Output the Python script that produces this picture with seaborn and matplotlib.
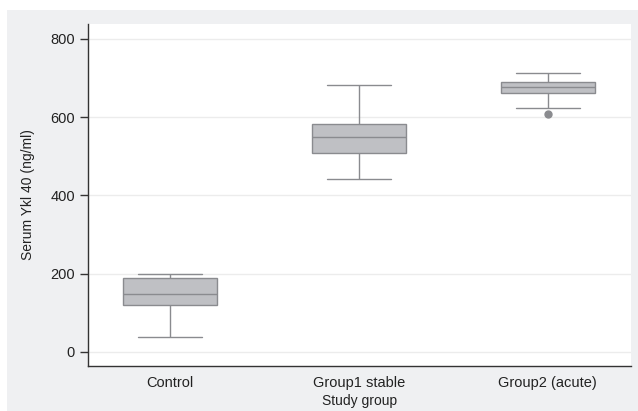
import numpy as np
import pandas as pd
import matplotlib
matplotlib.use("Agg")
import matplotlib.pyplot as plt
import seaborn as sns

# -------------------
# Data (min, Q1, median, Q3, max + one outlier)
# -------------------
groups = ["Control", "Group1 stable", "Group2 (acute)"]
control = [37, 100, 120, 135, 147, 170, 190, 195, 198]
group1 = [441, 480, 508, 530, 548, 565, 582, 640, 681]
group2 = [608, 623, 661, 668, 676, 682, 689, 700, 714]
yticks = [0, 200, 400, 600, 800]

df = pd.DataFrame({
    "group": np.repeat(groups, [len(control), len(group1), len(group2)]),
    "value": control + group1 + group2,
})

# -------------------
# Plot
# -------------------
sns.set_theme(style="white")
plt.rcParams["font.family"] = ["Liberation Sans", "DejaVu Sans"]

fig = plt.figure(figsize=(6.38, 4.11), dpi=100, facecolor="white")
fig.patches.append(plt.Rectangle((7 / 638, 0), 1, 1 - 10 / 411, transform=fig.transFigure,
                                 facecolor="#eff0f2", edgecolor="none", zorder=-10))
ax = fig.add_axes([88 / 638, 1 - 366 / 411, (631 - 88) / 638, (366 - 24) / 411])
ax.set_facecolor("white")

edge = "#8a8b8f"
sns.boxplot(data=df, x="group", y="value", order=groups, ax=ax,
            color="#bfc0c4", saturation=1, width=0.5, linecolor=edge, linewidth=1,
            capwidths=0.34,
            flierprops=dict(marker="o", markerfacecolor=edge, markeredgecolor=edge, markersize=5))

ax.set_xlim(-0.434, 2.44)
ax.set_ylim(-36, 838)
ax.set_yticks(yticks)
ax.yaxis.grid(True, color="#ececec", linewidth=1)
ax.set_axisbelow(True)
for s in ["top", "right"]:
    ax.spines[s].set_visible(False)
for s in ["left", "bottom"]:
    ax.spines[s].set_color("#333333")
    ax.spines[s].set_linewidth(1)
ax.tick_params(axis="y", length=6, width=1, color="#333333", labelsize=10.5, labelcolor="#222222", left=True)
ax.tick_params(axis="x", length=0, labelsize=10.5, labelcolor="#222222", pad=7)
ax.set_ylabel("Serum Ykl 40 (ng/ml)", fontsize=10, color="#222222", labelpad=11)
ax.set_xlabel("Study group", fontsize=10, color="#222222", labelpad=3)

fig.savefig("out.png", dpi=100, facecolor=fig.get_facecolor())
